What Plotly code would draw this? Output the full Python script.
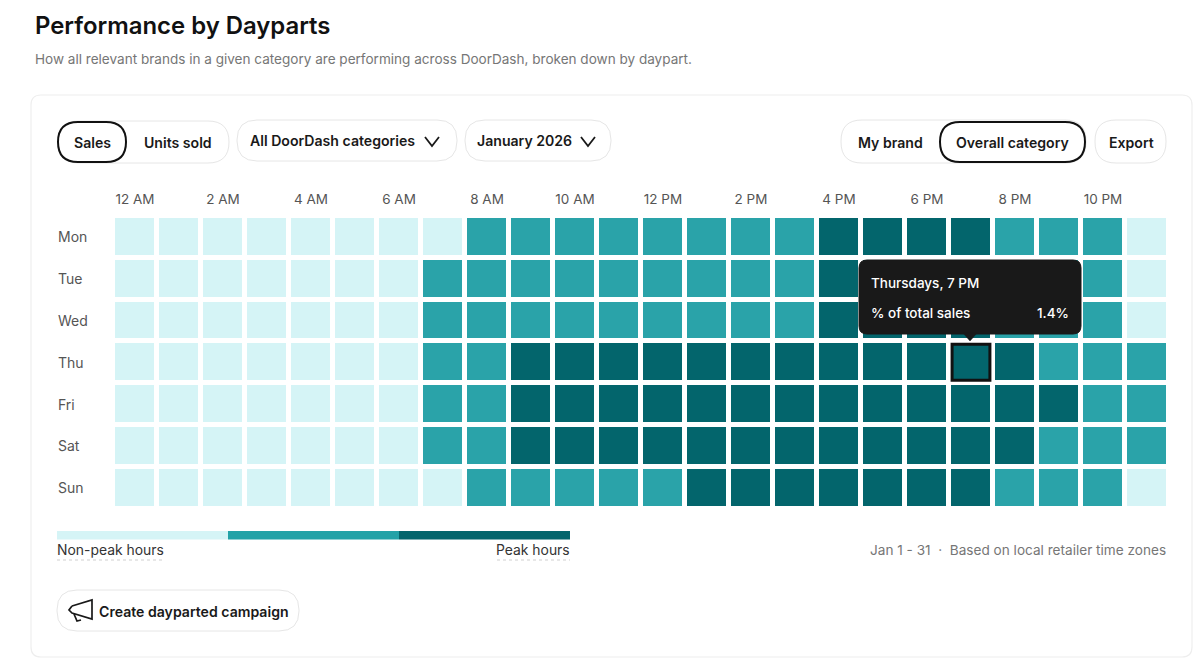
import plotly.graph_objects as go

W, H = 1200, 669

hours = ["12 AM", "1 AM", "2 AM", "3 AM", "4 AM", "5 AM", "6 AM", "7 AM", "8 AM", "9 AM", "10 AM", "11 AM",
         "12 PM", "1 PM", "2 PM", "3 PM", "4 PM", "5 PM", "6 PM", "7 PM", "8 PM", "9 PM", "10 PM", "11 PM"]
days = ["Mon", "Tue", "Wed", "Thu", "Fri", "Sat", "Sun"]
# 0 = non-peak, 1 = mid, 2 = peak
mon = [0, 0, 0, 0, 0, 0, 0, 0, 1, 1, 1, 1, 1, 1, 1, 1, 2, 2, 2, 2, 1, 1, 1, 0]
tue = [0, 0, 0, 0, 0, 0, 0, 1, 1, 1, 1, 1, 1, 1, 1, 1, 2, 2, 2, 2, 1, 1, 1, 0]
wed = [0, 0, 0, 0, 0, 0, 0, 1, 1, 1, 1, 1, 1, 1, 1, 1, 2, 2, 2, 2, 1, 1, 1, 0]
thu = [0, 0, 0, 0, 0, 0, 0, 1, 1, 2, 2, 2, 2, 2, 2, 2, 2, 2, 2, 2, 2, 1, 1, 1]
fri = [0, 0, 0, 0, 0, 0, 0, 1, 1, 2, 2, 2, 2, 2, 2, 2, 2, 2, 2, 2, 2, 2, 1, 1]
sat = [0, 0, 0, 0, 0, 0, 0, 1, 1, 2, 2, 2, 2, 2, 2, 2, 2, 2, 2, 2, 2, 1, 1, 1]
sun = [0, 0, 0, 0, 0, 0, 0, 0, 1, 1, 1, 1, 1, 2, 2, 2, 2, 2, 2, 2, 1, 1, 1, 0]
tick_hours = hours[::2]

LIGHT, MID, DARK = "#D5F4F6", "#2AA3A9", "#03656C"
FONT = "Inter"
INK, GRAY, EDGE = "#191919", "#767676", "#E6E6E6"


def fx(px):
    return px / W


def fy(py):
    return 1 - py / H


fig = go.Figure(go.Heatmap(
    z=[mon, tue, wed, thu, fri, sat, sun], x=hours, y=days, zmin=0, zmax=2,
    colorscale=[[0, LIGHT], [0.33, LIGHT], [0.33, MID], [0.66, MID], [0.66, DARK], [1, DARK]],
    showscale=False, xgap=5, ygap=5, hoverinfo="skip",
))

shapes, notes = [], []


def rrect(x0, y0, x1, y1, r, line=EDGE, width=1, fill="rgba(0,0,0,0)"):
    X0, X1, Y0, Y1 = fx(x0), fx(x1), fy(y0), fy(y1)
    rx, ry = r / W, r / H
    p = (f"M{X0+rx},{Y0} L{X1-rx},{Y0} Q{X1},{Y0} {X1},{Y0-ry} L{X1},{Y1+ry} Q{X1},{Y1} {X1-rx},{Y1} "
         f"L{X0+rx},{Y1} Q{X0},{Y1} {X0},{Y1+ry} L{X0},{Y0-ry} Q{X0},{Y0} {X0+rx},{Y0} Z")
    shapes.append(dict(type="path", xref="paper", yref="paper", path=p, fillcolor=fill,
                       line=dict(color=line, width=width), layer="above"))


def poly(pts, color=INK, width=1.8, close=False, fill="rgba(0,0,0,0)"):
    p = "M" + " L".join(f"{fx(a)},{fy(b)}" for a, b in pts) + (" Z" if close else "")
    shapes.append(dict(type="path", xref="paper", yref="paper", path=p, fillcolor=fill,
                       line=dict(color=color, width=width), layer="above"))


def rect(x0, y0, x1, y1, color):
    shapes.append(dict(type="rect", xref="paper", yref="paper", x0=fx(x0), x1=fx(x1), y0=fy(y0), y1=fy(y1),
                       fillcolor=color, line=dict(width=0), layer="above"))


def text(x, y, s, size=14.1, color=INK, anchor="left", weight=400):
    notes.append(dict(xref="paper", yref="paper", x=fx(x), y=fy(y), text=s, showarrow=False, xanchor=anchor,
                      yanchor="middle", borderpad=0, borderwidth=0,
                      font=dict(family=FONT, size=size, color=color, weight=weight)))


# card
rrect(31, 95, 1192, 657, 10, line="#EEEEEE", width=1.2)
# heading
text(35, 25.5, "Performance by Dayparts", size=23.9, color="#111111", weight=600)
text(35, 59, "How all relevant brands in a given category are performing across DoorDash, broken down by daypart.",
     size=13.55, color=GRAY)

# controls
rrect(58, 121, 229, 163, 21)
rrect(58, 122, 126, 162, 20, line="#111111", width=2, fill="white")
text(92, 142, "Sales", weight=600, anchor="center")
text(177.5, 142, "Units sold", weight=600, anchor="center")
rrect(237, 120, 457, 161, 20)
text(250, 141, "All DoorDash categories", weight=600)
poly([(425, 137), (432, 146), (439, 137)])
rrect(465, 120, 611, 161, 20)
text(477, 141, "January 2026", weight=600)
poly([(581, 137), (588, 146), (595, 137)])
rrect(841, 120, 1086, 163, 21)
rrect(940, 122, 1085, 162, 20, line="#111111", width=2, fill="white")
text(890, 142, "My brand", weight=600, anchor="center")
text(1012.5, 142, "Overall category", weight=600, anchor="center")
rrect(1095, 120, 1166, 163, 21)
text(1131, 142, "Export", weight=600, anchor="center")

# legend strip
rect(57, 531, 228, 539.5, LIGHT)
rect(228, 531, 399, 539.5, "#22A2A7")
rect(399, 531, 570, 539.5, DARK)
text(57, 550, "Non-peak hours", size=13.9, color="#333333")
text(570, 550, "Peak hours", size=13.9, color="#333333", anchor="right")
for a, b in ((57, 163), (497, 570)):
    shapes.append(dict(type="line", xref="paper", yref="paper", x0=fx(a), x1=fx(b), y0=fy(560), y1=fy(560),
                       line=dict(color="#CFCFCF", width=1, dash="dot"), layer="above"))
text(1166, 550, "Jan 1 - 31  \u00b7  Based on local retailer time zones", size=13.6, color=GRAY, anchor="right")

# campaign button
rrect(57, 590, 299, 631, 20)
poly([(72, 606), (92, 600), (92, 619), (72, 613), (69, 610), (72, 606)], width=1.7)
poly([(74, 614), (77, 621), (81, 620)], width=1.7)
text(99, 611, "Create dayparted campaign", weight=600)

# selected cell
shapes.append(dict(type="rect", xref="x", yref="y", x0=19 - 0.43, x1=19 + 0.43, y0=3 - 0.43, y1=3 + 0.43,
                   line=dict(color="#111111", width=3), fillcolor="rgba(0,0,0,0)", layer="above"))
# tooltip
rrect(859, 260, 1081, 334, 8, line="#191919", fill="#191919")
poly([(963, 333), (977, 333), (970, 341)], color="#191919", width=0.5, close=True, fill="#191919")
text(871, 283, "Thursdays, 7 PM", color="white", size=13.5, weight=500)
text(871, 312.5, "% of total sales", color="white", size=13.5, weight=500)
text(1069, 312.5, "1.4%", color="white", size=13.5, weight=500, anchor="right")

# day labels
for d in days:
    notes.append(dict(xref="paper", yref="y", x=fx(57), y=d, text=d, showarrow=False, xanchor="left",
                      borderpad=0, font=dict(family=FONT, size=14, color="#555555")))

fig.update_layout(
    width=W, height=H, autosize=False, margin=dict(l=0, r=0, t=0, b=0),
    paper_bgcolor="white", plot_bgcolor="white", showlegend=False,
    shapes=shapes, annotations=notes, font=dict(family=FONT),
    xaxis=dict(domain=[fx(113), fx(1169)], side="top", anchor="y", type="category", tickmode="array",
               tickvals=tick_hours, ticktext=tick_hours, tickangle=0, showgrid=False, zeroline=False,
               showline=False, ticks="", ticklabelstandoff=8,
               tickfont=dict(family=FONT, size=13.5, color="#555555")),
    yaxis=dict(domain=[fy(508.5), fy(216)], type="category", range=[6.5, -0.5], showticklabels=False,
               showgrid=False, zeroline=False, showline=False, ticks=""),
)

fig.write_html("out.html", config=dict(displayModeBar=False),
               post_script="document.body.style.margin='0';")
